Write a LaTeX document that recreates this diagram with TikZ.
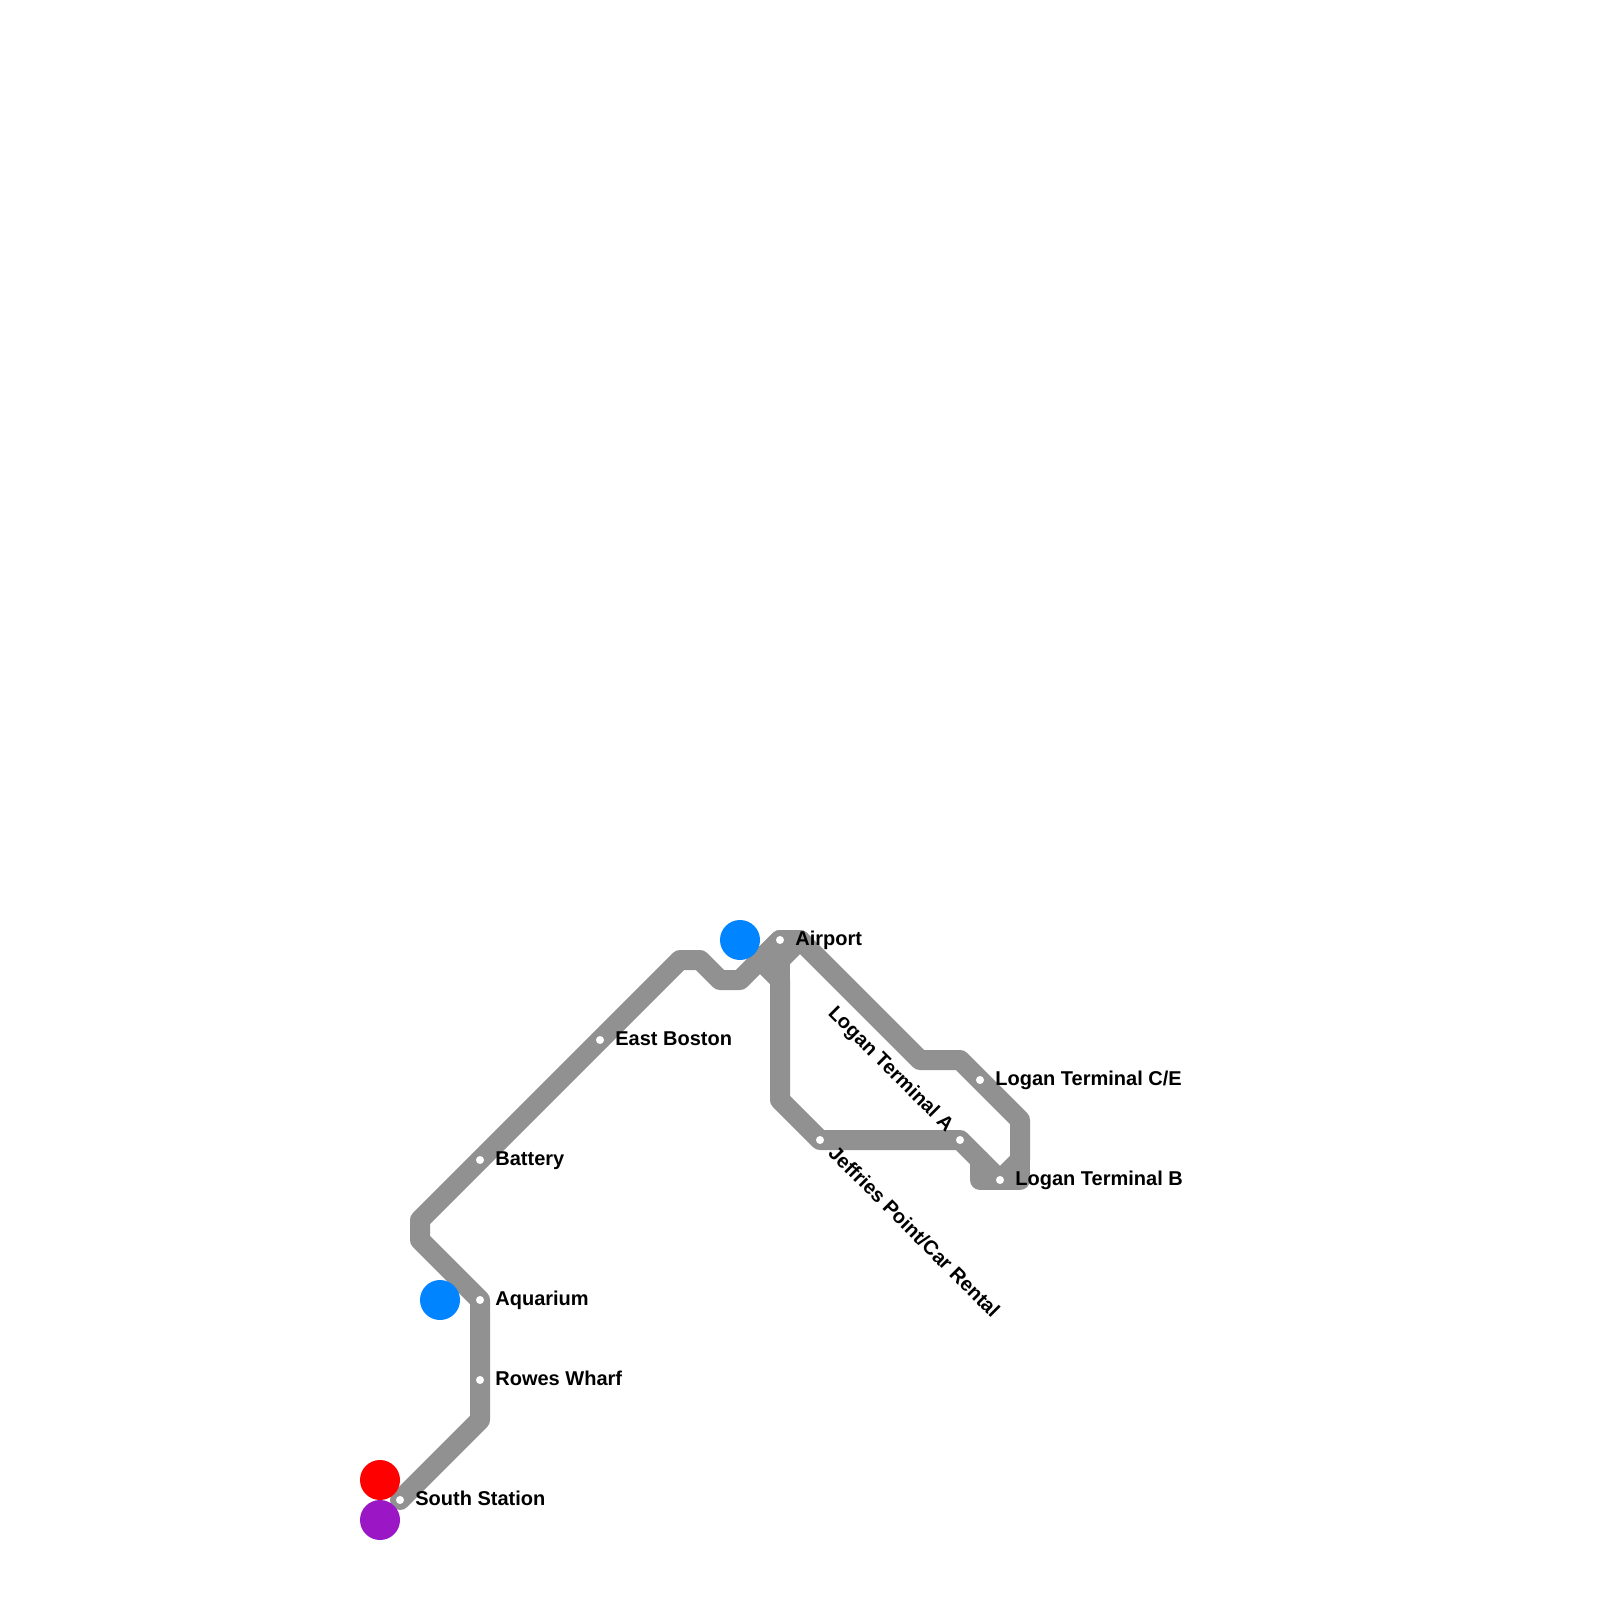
\documentclass[tikz,border=0pt]{standalone}
\usepackage{fontspec}
\setmainfont{Liberation Sans}
\definecolor{linegray}{HTML}{919191}
\definecolor{mbtablue}{HTML}{0084FF}
\definecolor{mbtared}{HTML}{FF0000}
\definecolor{mbtapurple}{HTML}{9B17C6}
\tikzset{
  track/.style={draw=linegray,line width=10pt,line join=round,line cap=round},
  stop/.style={circle,fill=white,inner sep=0pt,minimum size=4pt},
  hub/.style={circle,inner sep=0pt,minimum size=20pt},
  lbl/.style={font=\bfseries\fontsize{10pt}{11pt}\selectfont,inner sep=0pt,anchor=base west,text=black}
}
\begin{document}
\begin{tikzpicture}[x=0.5pt,y=-0.5pt]
\useasboundingbox (0,0) rectangle (1600,1600);
% coordinates
\coordinate (ss) at (400,1500);
\coordinate (rw) at (480,1380);
\coordinate (aq) at (480,1300);
\coordinate (ba) at (480,1160);
\coordinate (eb) at (600,1040);
\coordinate (ap) at (780,940);
\coordinate (jp) at (820,1140);
\coordinate (ta) at (960,1140);
\coordinate (tc) at (980,1080);
\coordinate (tb) at (1000,1180);
\coordinate (b1) at (480,1420);
\coordinate (b2) at (420,1240);
\coordinate (b3) at (420,1220);
\coordinate (b4) at (680,960);
\coordinate (b5) at (700,960);
\coordinate (b6) at (720,980);
\coordinate (b7) at (740,980);
\coordinate (b8) at (800,940);
\coordinate (b9) at (920,1060);
\coordinate (b10) at (960,1060);
\coordinate (b11) at (1020,1120);
\coordinate (b12) at (1020,1160);
\coordinate (b13) at (760,960);
\coordinate (b14) at (780,980);
\coordinate (b15) at (780,1100);
\coordinate (b16) at (980,1160);
\coordinate (b17) at (980,1180);
\coordinate (b18) at (1020,1180);
\coordinate (b19) at (780,960);
% tracks
\draw[track] (ss) -- (b1) -- (rw) -- (aq) -- (b2) -- (b3) -- (ba) -- (eb) -- (b4) -- (b5) -- (b6) -- (b7) -- (ap) -- (b8) -- (b9) -- (b10) -- (tc) -- (b11) -- (b12) -- (tb);
\draw[track] (b13) -- (b14) -- (b15) -- (jp) -- (ta) -- (b16) -- (tb);
\draw[track] (ap) -- (b13);
\draw[track] (b19) -- (b8);
\draw[track] (b19) -- (b14);
\draw[track] (b16) -- (b17) -- (b18) -- (b12);
% hubs
\node[hub,fill=mbtablue] (h1) at (740,940) {};
\node[hub,fill=mbtablue] (h2) at (440,1300) {};
\node[hub,fill=mbtared] (h3) at (380,1480) {};
\node[hub,fill=mbtapurple] (h4) at (380,1520) {};
% stations
\node[stop] (nss) at (ss) {};
\node[stop] (nrw) at (rw) {};
\node[stop] (naq) at (aq) {};
\node[stop] (nba) at (ba) {};
\node[stop] (neb) at (eb) {};
\node[stop] (nap) at (ap) {};
\node[stop] (njp) at (jp) {};
\node[stop] (nta) at (ta) {};
\node[stop] (ntc) at (tc) {};
\node[stop] (ntb) at (tb) {};
% labels
\node[lbl] (l1) at (415,1505) {South Station};
\node[lbl] (l2) at (495,1385) {Rowes Wharf};
\node[lbl] (l3) at (495,1305) {Aquarium};
\node[lbl] (l4) at (495,1165) {Battery};
\node[lbl] (l5) at (615,1045) {East Boston};
\node[lbl] (l6) at (795,945) {Airport};
\node[lbl] (l7) at (995,1085) {Logan Terminal C/E};
\node[lbl] (l8) at (1015,1185) {Logan Terminal B};
\node[lbl,rotate=-45] (l9) at (827,1154) {Jeffries Point/Car Rental};
\node[lbl,rotate=-45,anchor=base east] (l10) at (946,1133) {Logan Terminal A};
\end{tikzpicture}
\end{document}
